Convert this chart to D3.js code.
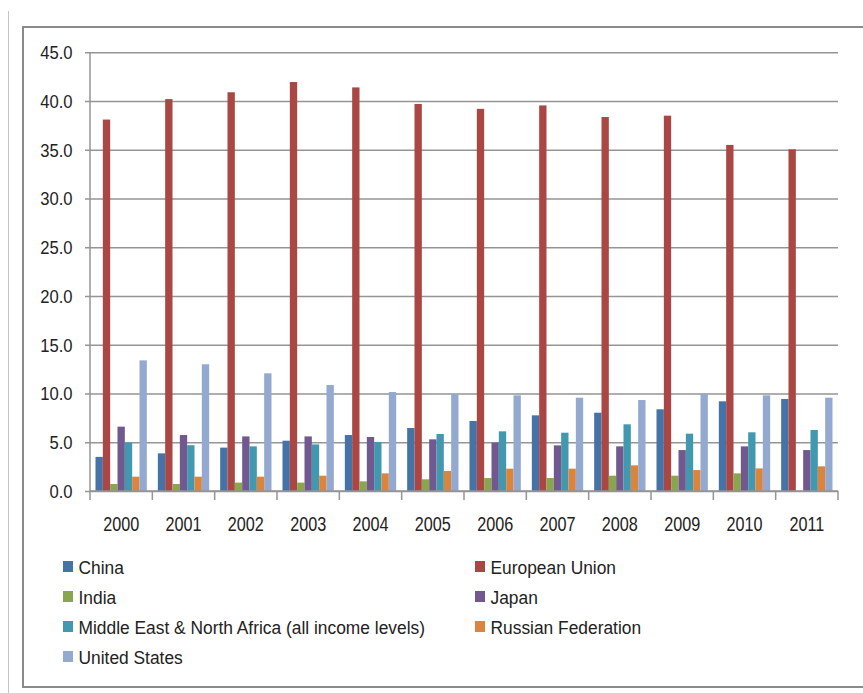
<!DOCTYPE html>
<html>
<head>
<meta charset="utf-8">
<script src="https://cdn.jsdelivr.net/npm/d3@7/dist/d3.min.js"></script>
<style>
  html, body { margin: 0; padding: 0; background: #fff; }
  svg { display: block; }
  text { font-family: "Liberation Sans", Arial, sans-serif; fill: #222; }
</style>
</head>
<body>
<svg id="chart" width="863" height="693"></svg>
<script>
// Category labels and y tick values
const years = ["2000","2001","2002","2003","2004","2005","2006","2007","2008","2009","2010","2011"];
const yTicks = [0, 5, 10, 15, 20, 25, 30, 35, 40, 45];

// Series values, one array per economy
const china   = [3.5, 3.86, 4.45, 5.16, 5.74, 6.46, 7.18, 7.76, 8.03, 8.38, 9.2, 9.44];
const eu      = [38.1, 40.2, 40.9, 41.95, 41.4, 39.7, 39.2, 39.55, 38.36, 38.5, 35.5, 35.05];
const india   = [0.72, 0.72, 0.86, 0.86, 0.99, 1.2, 1.33, 1.33, 1.57, 1.57, 1.81, 0];
const japan   = [6.6, 5.74, 5.6, 5.6, 5.54, 5.3, 4.96, 4.68, 4.58, 4.2, 4.58, 4.2];
const mena    = [4.96, 4.7, 4.58, 4.78, 5.03, 5.85, 6.12, 5.98, 6.84, 5.88, 6.02, 6.26];
const russia  = [1.47, 1.47, 1.47, 1.57, 1.81, 2.05, 2.29, 2.29, 2.63, 2.15, 2.32, 2.53];
const usa     = [13.4, 13.0, 12.07, 10.87, 10.15, 9.95, 9.81, 9.57, 9.33, 9.98, 9.81, 9.57];

const seriesNames  = ["China", "European Union", "India", "Japan",
                      "Middle East & North Africa (all income levels)", "Russian Federation", "United States"];
const seriesValues = [china, eu, india, japan, mena, russia, usa];
const seriesColors = ["#4572A7", "#AA4643", "#89A54E", "#71588F", "#4198AF", "#DB843D", "#93A9CF"];

const series = seriesNames.map((name, i) => ({ name, values: seriesValues[i], color: seriesColors[i] }));

const svg = d3.select("#chart");

// Places a text at (px, py) with a horizontal squeeze for the narrow label look
function place(sel, px, py, sx) {
  sel.attr("x", 0).attr("y", 0)
     .attr("transform", (d, i) => `translate(${px(d, i)},${py(d, i)}) scale(${sx},1)`);
}

// Frame lines
svg.append("line").attr("x1", 8.5).attr("x2", 8.5).attr("y1", 11).attr("y2", 693)
  .attr("stroke", "#c4c4c4").attr("stroke-width", 1);
svg.append("path")
  .attr("d", "M870,27 L23,27 L23,687 L870,687")
  .attr("fill", "none").attr("stroke", "#8a8a8a").attr("stroke-width", 2);

// Plot geometry
const plot = { left: 90, right: 838, top: 52.3, bottom: 491 };

const x = d3.scaleBand().domain(years).range([plot.left, plot.right]).paddingInner(0).paddingOuter(0);
const xi = d3.scaleBand().domain(seriesNames).range([0, x.bandwidth()]).paddingInner(0).paddingOuter(0.75);
const y = d3.scaleLinear().domain([0, 45]).range([plot.bottom, plot.top]);

// Gridlines with outside tick marks
const yAxis = d3.axisLeft(y).tickValues(yTicks).tickFormat(d3.format(".1f"))
  .tickSize(-(plot.right - plot.left)).tickPadding(0);
const gy = svg.append("g").attr("transform", `translate(${plot.left},0)`).call(yAxis);
gy.select(".domain").remove();
gy.attr("font-family", null).attr("font-size", null);
gy.selectAll(".tick line").attr("x1", -5).attr("stroke", "#959595").attr("stroke-width", 1.5);
gy.selectAll(".tick text")
  .attr("text-anchor", "end").attr("dy", "0.36em")
  .style("font-size", "17.5px").attr("fill", "#222")
  .call(place, () => -17.5, () => 0, 0.95);

svg.append("line").attr("x1", plot.left).attr("x2", plot.left).attr("y1", plot.top).attr("y2", plot.bottom)
  .attr("stroke", "#959595").attr("stroke-width", 1.5);

// Bars
const groups = svg.append("g").selectAll("g").data(years).join("g")
  .attr("transform", d => `translate(${x(d)},0)`);
groups.selectAll("rect")
  .data((yr, yi) => series.map(s => ({ name: s.name, color: s.color, v: s.values[yi] })))
  .join("rect")
  .attr("x", d => xi(d.name))
  .attr("width", xi.bandwidth())
  .attr("y", d => y(d.v))
  .attr("height", d => y(0) - y(d.v))
  .attr("fill", d => d.color);

// X axis with boundary ticks
svg.append("line").attr("x1", plot.left).attr("x2", plot.right).attr("y1", plot.bottom).attr("y2", plot.bottom)
  .attr("stroke", "#959595").attr("stroke-width", 1.5);
const bounds = years.map(d => x(d)).concat([plot.right]);
svg.append("g").selectAll("line").data(bounds).join("line")
  .attr("x1", d => d).attr("x2", d => d).attr("y1", plot.bottom).attr("y2", plot.bottom + 9)
  .attr("stroke", "#959595").attr("stroke-width", 1.5);
svg.append("g").selectAll("text").data(years).join("text")
  .attr("text-anchor", "middle").style("font-size", "20.5px").text(d => d)
  .call(place, d => x(d) + x.bandwidth() / 2, () => 530.5, 0.79);

// Legend: two columns, filled row by row
const legendCols = [63, 475];
const legendRowY = 567, legendRowH = 30;
const legend = svg.append("g").selectAll("g").data(series).join("g")
  .attr("transform", (d, i) => `translate(${legendCols[i % 2]},${legendRowY + Math.floor(i / 2) * legendRowH})`);
legend.append("rect").attr("x", 0).attr("y", -6).attr("width", 10).attr("height", 11).attr("fill", d => d.color);
legend.append("text").attr("dy", "0.36em")
  .style("font-size", "18.3px").text(d => d.name)
  .call(place, () => 15.5, () => 0, 0.95);
</script>
</body>
</html>
